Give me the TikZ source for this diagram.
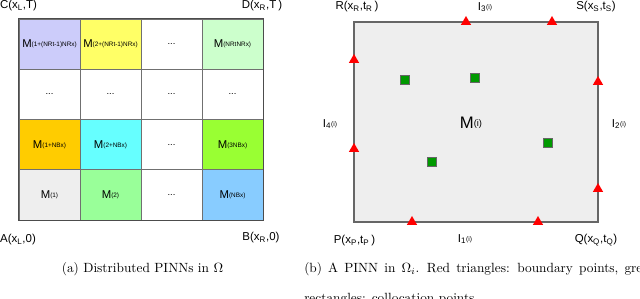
\documentclass[tikz,border=0pt]{standalone}
\usepackage{fontspec}
\newfontfamily\labelfont{Liberation Sans}
\usepackage{tikz}
\usetikzlibrary{shapes.geometric}
\definecolor{lilac}{HTML}{CCCCFA}
\definecolor{lemon}{HTML}{FFFF66}
\definecolor{mint}{HTML}{CCFFCC}
\definecolor{amber}{HTML}{FFCC00}
\definecolor{aqua}{HTML}{66FFFF}
\definecolor{lime}{HTML}{99FF33}
\definecolor{pale}{HTML}{EEEEEE}
\definecolor{leaf}{HTML}{99FF99}
\definecolor{sky}{HTML}{88CCFF}
\definecolor{edge}{HTML}{707070}
\definecolor{dotgreen}{HTML}{009900}
\newcommand{\mcell}[1]{{\fontsize{8.5}{9}\selectfont M}\raisebox{0.8pt}{\fontsize{4.8}{5}\selectfont(#1)}}
\newcommand{\ilab}[1]{I\textsubscript{#1}\raisebox{0.6pt}{\fontsize{5}{5}\selectfont(i)}}

\begin{document}
\begin{tikzpicture}[x=0.75pt,y=-0.75pt,
  cell/.style={draw=edge,inner sep=0,minimum width=45.75pt,minimum height=37.7pt,font=\labelfont},
  dots/.style={font=\labelfont\fontsize{7}{8}\selectfont},
  corner/.style={inner sep=0,font=\labelfont\fontsize{8.6}{9}\selectfont},
  bpoint/.style={regular polygon,regular polygon sides=3,fill=red,inner sep=0,minimum size=9pt},
  cpoint/.style={rectangle,draw=black!60,fill=dotgreen,inner sep=0,minimum size=6.8pt}]
\useasboundingbox (0,0) rectangle (640,299);

% (a) grid of subdomains
\node[cell,fill=lilac] (m41) at (49.5,44.1) {\mcell{1+(NRt-1)NRx}};
\node[cell,fill=lemon] (m42) at (110.5,44.1) {\mcell{2+(NRt-1)NRx}};
\node[cell,fill=white,dots] (m43) at (171.5,44.1) {...};
\node[cell,fill=mint] (m44) at (232.5,44.1) {\mcell{NRtNRx}};
\node[cell,fill=white,dots] (m31) at (49.5,94.4) {...};
\node[cell,fill=white,dots] (m32) at (110.5,94.4) {...};
\node[cell,fill=white,dots] (m33) at (171.5,94.4) {...};
\node[cell,fill=white,dots] (m34) at (232.5,94.4) {...};
\node[cell,fill=amber] (m21) at (49.5,144.6) {\mcell{1+NBx}};
\node[cell,fill=aqua] (m22) at (110.5,144.6) {\mcell{2+NBx}};
\node[cell,fill=white,dots] (m23) at (171.5,144.6) {...};
\node[cell,fill=lime] (m24) at (232.5,144.6) {\mcell{3NBx}};
\node[cell,fill=pale] (m11) at (49.5,194.9) {\mcell{1}};
\node[cell,fill=leaf] (m12) at (110.5,194.9) {\mcell{2}};
\node[cell,fill=white,dots] (m13) at (171.5,194.9) {...};
\node[cell,fill=sky] (m14) at (232.5,194.9) {\mcell{NBx}};
\draw[line width=0.9pt,black!70] (m41.north west) rectangle (m14.south east);

\node[corner] (ca) at (18.5,6) {C(x\textsubscript{L},T)};
\node[corner] (cd) at (262,6) {D(x\textsubscript{R},T\,)};
\node[corner] (aa) at (18,240) {A(x\textsubscript{L},0)};
\node[corner] (ab) at (261,238) {B(x\textsubscript{R},0)};

% (b) one subdomain
\node[draw=black!60,line width=0.9pt,fill=pale,inner sep=0,minimum width=183pt,minimum height=150pt] (omega) at (476,122) {};
\node[font=\labelfont] (mi) at (471,123) {{\fontsize{12.5}{13}\selectfont M}\raisebox{1.5pt}{\fontsize{7}{8}\selectfont(i)}};

\node[bpoint] (t1) at (466,22) {};
\node[bpoint] (t2) at (552,22) {};
\node[bpoint] (t3) at (354,60) {};
\node[bpoint] (t4) at (354,149) {};
\node[bpoint] (t5) at (598,82) {};
\node[bpoint] (t6) at (598,189) {};
\node[bpoint] (t7) at (412,222) {};
\node[bpoint] (t8) at (538,222) {};

\node[cpoint] (s1) at (405,80) {};
\node[cpoint] (s2) at (475,78) {};
\node[cpoint] (s3) at (548,143) {};
\node[cpoint] (s4) at (432,162) {};

\node[corner] (pr) at (357,7) {R(x\textsubscript{R},t\textsubscript{R}\,)};
\node[corner] (ps) at (596,7) {S(x\textsubscript{S},t\textsubscript{S})};
\node[corner] (pp) at (354.5,241) {P(x\textsubscript{P},t\textsubscript{P}\,)};
\node[corner] (pq) at (596,240) {Q(x\textsubscript{Q},t\textsubscript{Q})};
\node[corner] (i3) at (485,7) {\ilab{3}};
\node[corner] (i4) at (330,124) {\ilab{4}};
\node[corner] (i2) at (619,124) {\ilab{2}};
\node[corner] (i1) at (465,239) {\ilab{1}};

% captions
\node[anchor=base,inner sep=0] (capa) at (142.5,272.5) {(a) Distributed PINNs in $\Omega$};
\node[anchor=base west,inner sep=0] (capb) at (304,272.5) {\spaceskip=4.6pt\relax (b) A PINN in $\Omega_i$. Red triangles: boundary points, green};
\node[anchor=base west,inner sep=0] (capc) at (304,302.5) {rectangles: collocation points.};
\end{tikzpicture}
\end{document}
